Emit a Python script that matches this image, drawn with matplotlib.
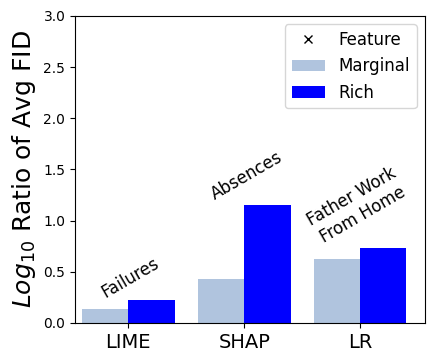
import matplotlib
matplotlib.use("Agg")
import matplotlib.pyplot as plt
from matplotlib.lines import Line2D
import numpy as np

# values
methods = ["LIME", "SHAP", "LR"]
marginal = [0.14, 0.43, 0.625]
rich = [0.225, 1.15, 0.735]
features = ["Failures", "Absences", "Father Work\nFrom Home"]
label_y = [0.36, 1.36, 0.98]

x = np.arange(len(methods))
width = 0.4

fig = plt.figure(figsize=(4.34, 3.62), dpi=100)
ax = fig.add_axes([0.173, 0.108, 0.806, 0.848])

ax.bar(x - width / 2, marginal, width, color="lightsteelblue", label="Marginal")
ax.bar(x + width / 2, rich, width, color="blue", label="Rich")

for xi, name, yi in zip(x, features, label_y):
    ax.text(xi + 0.06, yi, name, rotation=30, fontsize=12, ha="center", va="bottom",
            rotation_mode="anchor", multialignment="center")

ax.set_xticks(x)
ax.set_xticklabels(methods, fontsize=14)
ax.set_xlim(-0.46, 2.56)
ax.set_ylim(0, 3.0)
ax.set_ylabel("$Log_{10}$ Ratio of Avg FID", fontsize=18)

handles, labels = ax.get_legend_handles_labels()
feat = Line2D([], [], color="black", marker="x", linestyle="none", label="Feature")
ax.legend([feat] + handles, ["Feature"] + labels, fontsize=12, loc="upper right")

fig.savefig("out.png", dpi=100)
